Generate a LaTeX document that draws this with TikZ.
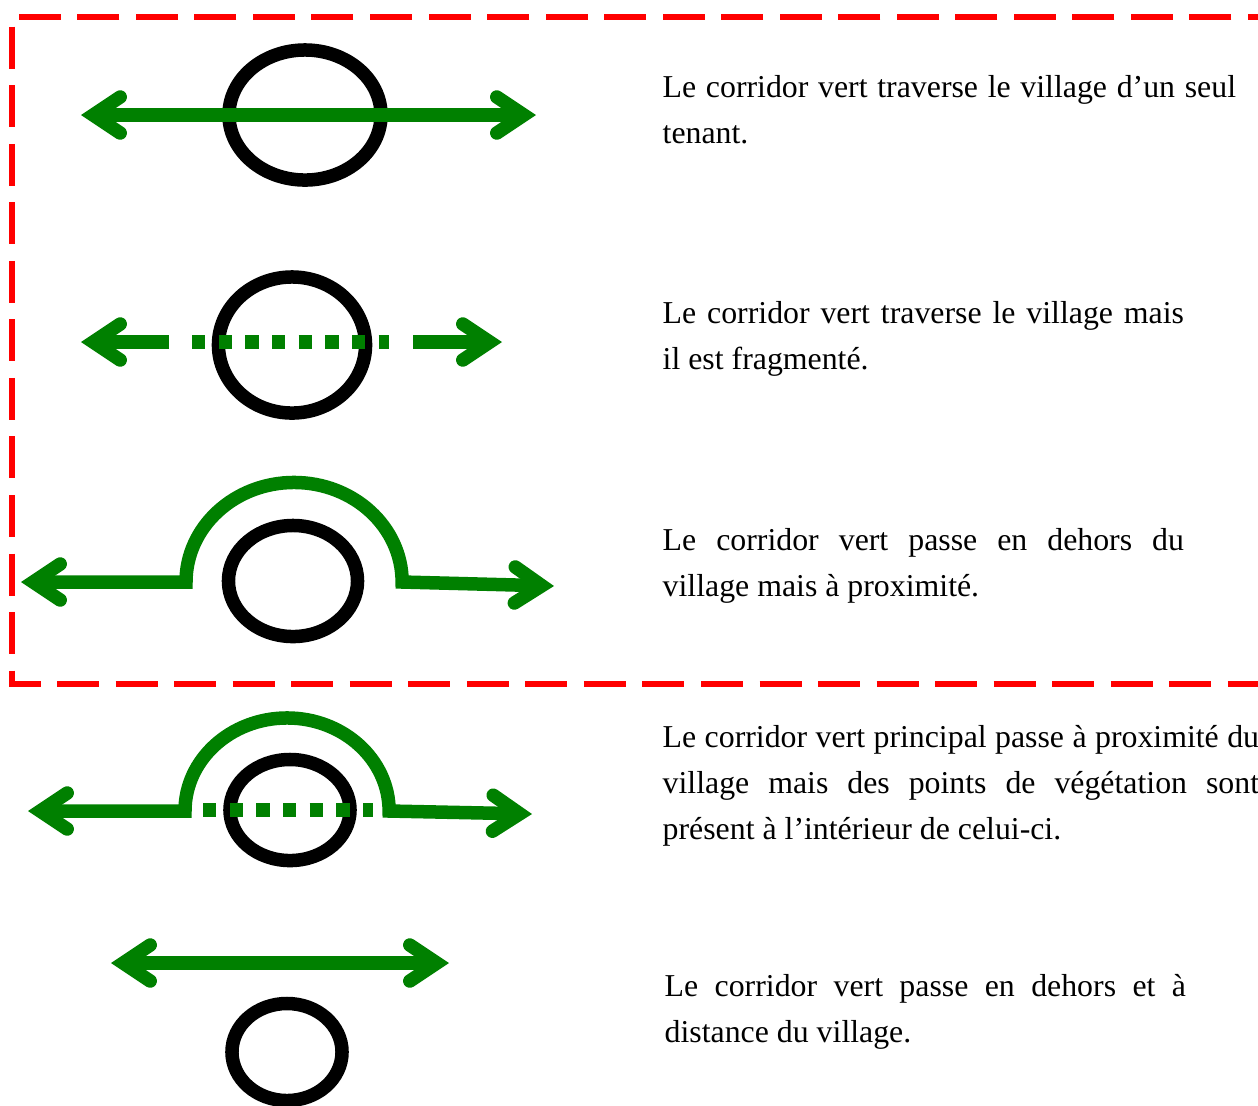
\documentclass[tikz,border=0pt]{standalone}
\usepackage{fontspec}
\setmainfont{Liberation Serif}
\usetikzlibrary{arrows.meta, positioning, shapes.geometric}
\definecolor{corridorgreen}{RGB}{0,128,0}

\begin{document}
\begin{tikzpicture}[x=0.01cm, y=-0.01cm,
    >={Straight Barb[length=0.27cm, width=0.36cm, line cap=round, line join=miter]},
    corridor/.style={draw=corridorgreen, line width=0.135cm},
    broken/.style={corridor, dash pattern=on 0.1333cm off 0.1333cm},
    village/.style={ellipse, draw=black, line width=0.135cm, inner sep=0pt},
    desc/.style={anchor=north west, inner sep=0pt, align=justify, font=\fontsize{9.05pt}{13.09pt}\selectfont}]
  \useasboundingbox (0,0) rectangle (1258,1105);

  % Frame
  \draw[red, line width=0.06cm, dash pattern=on 0.42cm off 0.165cm] (1290,17) -- (12,17) -- (12,684) -- (1290,684);

  % Villages
  \node[village, minimum width=1.52cm, minimum height=1.30cm] (vil1) at (305,115) {};
  \node[village, minimum width=1.47cm, minimum height=1.36cm] (vil2) at (292,345) {};
  \node[village, minimum width=1.29cm, minimum height=1.11cm] (vil3) at (293,581) {};
  \node[village, minimum width=1.20cm, minimum height=1.01cm] (vil4) at (290,810) {};
  \node[village, minimum width=1.10cm, minimum height=0.97cm] (vil5) at (287,1052) {};

  % Corridors
  \draw[corridor, <->] (81,115) -- (536,115);
  \draw[corridor, ->] (169,342) -- (81,342);
  \draw[broken] (192,342) -- (389,342);
  \draw[corridor, ->] (413,342) -- (502,342);
  \draw[corridor, <->] (21,582) -- (186,582) arc[start angle=180, end angle=0, x radius=1.08cm, y radius=0.995cm] -- (554,586);
  \draw[broken] (203,810) -- (373,810);
  \draw[corridor, <->] (28,811) -- (185,811) arc[start angle=180, end angle=0, x radius=1.02cm, y radius=0.93cm] -- (532,814);
  \draw[corridor, <->] (111,963) -- (449,963);

  % Descriptions
  \node[desc, text width=5.73cm] (txt1) at (662,75) {Le corridor vert traverse le village d’un seul\linebreak tenant.};
  \node[desc, text width=5.21cm] (txt2) at (662,301) {Le corridor vert traverse le village mais\linebreak il est fragmenté.};
  \node[desc, text width=5.21cm] (txt3) at (662,528) {Le corridor vert passe en dehors du\linebreak village mais à proximité.};
  \node[desc, text width=5.96cm] (txt4) at (662,725) {Le corridor vert principal passe à proximité du\linebreak village mais des points de végétation sont\linebreak présent à l’intérieur de celui-ci.};
  \node[desc, text width=5.21cm] (txt5) at (664,974) {Le corridor vert passe en dehors et à\linebreak distance du village.};
\end{tikzpicture}
\end{document}
